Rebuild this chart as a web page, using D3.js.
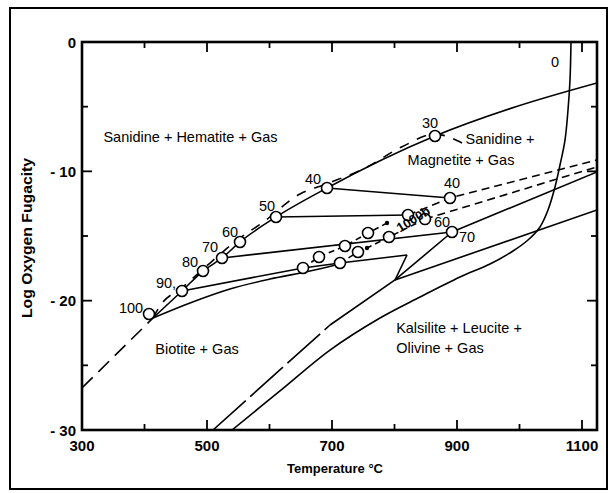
<!DOCTYPE html>
<html>
<head>
<meta charset="utf-8">
<script src="https://cdn.jsdelivr.net/npm/d3@7"></script>
<style>
  body { margin: 0; background: #fff; }
  svg text { font-family: "Liberation Sans", Arial, sans-serif; fill: #000; }
</style>
</head>
<body>
<svg id="chart" width="613" height="493"></svg>
<script>
// temperature (deg C), log fO2
const hematiteMagnetite = [[413.6, -21.34], [460, -19.25], [493.6, -17.71], [524, -16.7], [552.8, -15.46],
  [610.4, -13.53], [692, -11.29], [864.8, -7.27], [992.8, -5.03], [1124, -3.17]];
const biotiteDashedLow = [[300, -26.75], [413.6, -21.34]];
const biotiteDashed = [[413.6, -21.34], [424.8, -20.41], [461.6, -18.94], [504.8, -17.09],
  [552.8, -15.15], [588, -14.0], [648.8, -11.75], [692, -10.95], [752.8, -9.75], [812, -8.1],
  [864.8, -7.12], [908, -7.81]];
const lowerLimit = [[413.6, -21.34], [472.8, -20.18], [536.8, -19.1], [600.8, -18.33], [664.8, -17.71], [712.8, -17.17]];
const tie40 = [[692, -11.29], [888.8, -12.06]];
const tie50 = [[610.4, -13.53], [821.6, -13.38]];
const tie70 = [[524, -16.7], [892, -14.69]];
const tie90 = [[460, -19.25], [653.6, -17.47], [712.8, -17.09], [820, -16.47]];
const junction = [[820, -16.47], [800.8, -18.4]];
const kalsiliteUpper = [[696.8, -21.88], [800.8, -18.4], [892, -14.69]];
const kalsiliteUpperDashed = [[509.6, -30], [696.8, -21.88]];
const upperRight = [[892, -14.69], [1124, -10.05]];
const lowerRight = [[800.8, -18.4], [1124, -12.99]];
const zeroCurve = [[540, -30], [616.8, -26.98], [696.8, -23.82], [776.8, -21.34], [840.8, -19.72],
  [904.8, -18.17], [952.8, -17.17], [989.6, -16.16], [1013.6, -15.31], [1032.8, -14.3], [1045.6, -12.99],
  [1056.8, -11.21], [1064.8, -9.51], [1072.8, -7.58], [1077.6, -5.26], [1080.8, -2.94], [1082.4, 0]];
const buffer1 = [[653.6, -17.47], [679.2, -16.62], [720.8, -15.77], [757.6, -14.77], [788, -14.0]];
const buffer1Right = [[821.6, -13.38], [888.8, -12.06], [1124, -9.12]];
const buffer2 = [[712.8, -17.09], [741.6, -16.24], [756, -15.93], [791.2, -15.08], [848.8, -13.69]];
const buffer2Right = [[848.8, -13.69], [1124, -9.66]];

const circles = [[407.2, -21.03], [460, -19.25], [493.6, -17.71], [524, -16.7], [552.8, -15.46],
  [610.4, -13.53], [692, -11.29], [864.8, -7.27], [888.8, -12.06], [848.8, -13.69], [892, -14.69],
  [821.6, -13.38], [791.2, -15.08], [757.6, -14.77], [720.8, -15.77], [741.6, -16.24], [679.2, -16.62],
  [653.6, -17.47], [712.8, -17.09]];
const dots = [[788, -14.0], [756, -15.93]];

const numberLabels = [[378.4, -20.57, "100"], [434.4, -18.63, "90,"], [472.8, -17.01, "80"],
  [504.8, -15.85, "70"], [536.8, -14.69, "60"], [596, -12.68, "50"], [669.6, -10.59, "40"],
  [856.8, -6.26, "30"], [892, -10.9, "40"], [876, -13.92, "60"], [916, -15.08, "70"], [1056.8, -1.55, "0"]];
const fieldLabels = [[473.6, -7.35, "Sanidine + Hematite + Gas"], [968.8, -7.5, "Sanidine +"],
  [906.4, -9.12, "Magnetite + Gas"], [484, -23.74, "Biotite + Gas"],
  [903.2, -22.11, "Kalsilite + Leucite +"], [872.8, -23.66, "Olivine + Gas"]];

const xTicks = [300, 400, 500, 600, 700, 800, 900, 1000, 1100];
const xLabels = [300, 500, 700, 900, 1100];
const yTicks = [0, -5, -10, -15, -20, -25, -30];
const yLabels = {"0": "0", "-10": "- 10", "-20": "- 20", "-30": "- 30"};

const svg = d3.select("#chart");
const mLeft = 82, mRight = 597, mTop = 42, mBottom = 430;
const x = d3.scaleLinear().domain([300, 1124]).range([mLeft, mRight]);
const y = d3.scaleLinear().domain([0, -30]).range([mTop, mBottom]);
const line = d3.line().x(d => x(d[0])).y(d => y(d[1]));
const smooth = d3.line().x(d => x(d[0])).y(d => y(d[1])).curve(d3.curveMonotoneX);

// outer frame
svg.append("rect").attr("x", 10).attr("y", 8).attr("width", 597).attr("height", 481)
  .attr("fill", "none").attr("stroke", "#000").attr("stroke-width", 2);

const plot = svg.append("g");
plot.append("clipPath").attr("id", "clip").append("rect")
  .attr("x", mLeft).attr("y", mTop).attr("width", mRight - mLeft).attr("height", mBottom - mTop);
const g = plot.append("g").attr("clip-path", "url(#clip)");

function draw(data, dash, curve) {
  g.append("path").attr("d", (curve || line)(data)).attr("fill", "none")
    .attr("stroke", "#000").attr("stroke-width", 1.6)
    .attr("stroke-dasharray", dash || null);
}

draw(hematiteMagnetite, null, smooth);
draw(biotiteDashedLow, "15,8");
draw(biotiteDashed, "10,9", smooth);
draw(lowerLimit, null, smooth);
draw(tie40); draw(tie50); draw(tie70); draw(tie90); draw(junction);
draw(kalsiliteUpper); draw(kalsiliteUpperDashed, "44,6");
draw(upperRight); draw(lowerRight);
g.append("path").attr("d", d3.line().x(d => x(d[0])).y(d => y(d[1])).curve(d3.curveCatmullRom)(zeroCurve))
  .attr("fill", "none").attr("stroke", "#000").attr("stroke-width", 1.6);
draw(buffer1, "6,4"); draw(buffer1Right, "8,5");
draw(buffer2, "6,4"); draw(buffer2Right, "8,5");

g.selectAll("circle.pt").data(circles).join("circle").attr("class", "pt")
  .attr("cx", d => x(d[0])).attr("cy", d => y(d[1])).attr("r", 5.5)
  .attr("fill", "#fff").attr("stroke", "#000").attr("stroke-width", 1.6);
g.selectAll("circle.dot").data(dots).join("circle").attr("class", "dot")
  .attr("cx", d => x(d[0])).attr("cy", d => y(d[1])).attr("r", 2.2).attr("fill", "#000");

// label on buffer curve
svg.append("text").attr("transform", `translate(${x(830)},${y(-13.7)}) rotate(-32)`)
  .attr("text-anchor", "middle").attr("dominant-baseline", "central")
  .attr("font-size", 13).attr("font-weight", "bold").text("1000b");

svg.selectAll("text.num").data(numberLabels).join("text").attr("class", "num")
  .attr("x", d => x(d[0])).attr("y", d => y(d[1])).attr("text-anchor", "middle")
  .attr("dominant-baseline", "central").attr("font-size", 14.5).text(d => d[2]);
svg.selectAll("text.field").data(fieldLabels).join("text").attr("class", "field")
  .attr("x", d => x(d[0])).attr("y", d => y(d[1])).attr("text-anchor", "middle")
  .attr("dominant-baseline", "central").attr("font-size", 14.5).text(d => d[2]);

// axes frame and ticks
svg.append("rect").attr("x", mLeft).attr("y", mTop).attr("width", mRight - mLeft).attr("height", mBottom - mTop)
  .attr("fill", "none").attr("stroke", "#000").attr("stroke-width", 2.6);
const tickLen = v => (xLabels.includes(v) ? 10 : 6);
xTicks.forEach(v => {
  svg.append("line").attr("x1", x(v)).attr("x2", x(v)).attr("y1", mBottom).attr("y2", mBottom - tickLen(v))
    .attr("stroke", "#000").attr("stroke-width", 1.8);
  svg.append("line").attr("x1", x(v)).attr("x2", x(v)).attr("y1", mTop).attr("y2", mTop + tickLen(v))
    .attr("stroke", "#000").attr("stroke-width", 1.8);
});
yTicks.forEach(v => {
  const len = v % 10 === 0 ? 10 : 6;
  svg.append("line").attr("x1", mLeft).attr("x2", mLeft + len).attr("y1", y(v)).attr("y2", y(v))
    .attr("stroke", "#000").attr("stroke-width", 1.8);
  svg.append("line").attr("x1", mRight).attr("x2", mRight - len).attr("y1", y(v)).attr("y2", y(v))
    .attr("stroke", "#000").attr("stroke-width", 1.8);
});
svg.selectAll("text.xl").data(xLabels).join("text").attr("class", "xl")
  .attr("x", d => x(d)).attr("y", mBottom + 21).attr("text-anchor", "middle")
  .attr("font-size", 15).attr("font-weight", "bold").text(d => d);
svg.selectAll("text.yl").data(Object.keys(yLabels).map(Number)).join("text").attr("class", "yl")
  .attr("x", mLeft - 6).attr("y", d => y(d)).attr("text-anchor", "end").attr("dominant-baseline", "central")
  .attr("font-size", 15).attr("font-weight", "bold").text(d => yLabels[d]);

svg.append("text").attr("x", 335).attr("y", 473).attr("text-anchor", "middle")
  .attr("font-size", 13).attr("font-weight", "bold").text("Temperature °C");
svg.append("text").attr("transform", `translate(32,${238}) rotate(-90)`).attr("text-anchor", "middle")
  .attr("font-size", 14).attr("font-weight", "bold").attr("textLength", 160)
  .attr("lengthAdjust", "spacingAndGlyphs").text("Log Oxygen Fugacity");
</script>
</body>
</html>
